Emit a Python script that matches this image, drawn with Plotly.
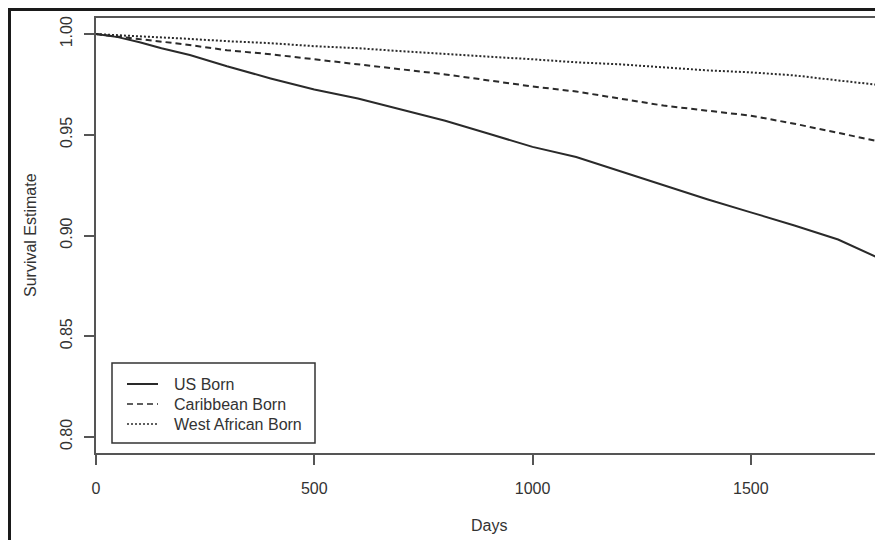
import plotly.graph_objects as go

days_us = [0, 50, 100, 150, 215, 300, 400, 500, 600, 700, 800, 900, 1000, 1100, 1200, 1300, 1400, 1500, 1600, 1700, 1796]
surv_us = [1.0, 0.9985, 0.996, 0.993, 0.9896, 0.984, 0.978, 0.9725, 0.968, 0.9625, 0.957, 0.9505, 0.944, 0.939, 0.932, 0.925, 0.918, 0.9115, 0.905, 0.898, 0.8885]

days_car = [0, 100, 200, 300, 400, 500, 600, 700, 800, 900, 1000, 1100, 1200, 1300, 1400, 1500, 1600, 1700, 1796]
surv_car = [1.0, 0.9975, 0.995, 0.992, 0.990, 0.9875, 0.985, 0.9825, 0.980, 0.977, 0.974, 0.9715, 0.968, 0.9645, 0.962, 0.9595, 0.9555, 0.951, 0.9466]

days_wa = [0, 100, 200, 300, 400, 500, 600, 700, 800, 900, 1000, 1100, 1200, 1300, 1400, 1500, 1600, 1700, 1796]
surv_wa = [1.0, 0.999, 0.9978, 0.9965, 0.9955, 0.994, 0.993, 0.9915, 0.990, 0.9888, 0.9875, 0.986, 0.985, 0.9835, 0.982, 0.981, 0.9795, 0.977, 0.9747]

x_ticks = [0, 500, 1000, 1500]
y_ticks = [0.80, 0.85, 0.90, 0.95, 1.00]
y_tick_labels = ["0.80", "0.85", "0.90", "0.95", "1.00"]

series_names = ["US Born", "Caribbean Born", "West African Born"]
series_dash = ["solid", "6px,4px", "2px,2px"]

FONT = "Liberation Sans, Arial, sans-serif"
INK = "#333333"
LINE = "#2a2a2a"

# page offset (browser body margin)
OFF = 8
L, R, T, B = 88, 3, 10, 87
W, H = 875, 532
pw, ph = W - L - R, H - T - B


def px(xp):
    return (xp - OFF - L) / pw


def py(yp):
    return (H - B - (yp - OFF)) / ph


fig = go.Figure()
for xs, ys, name, dash in [(days_us, surv_us, series_names[0], series_dash[0]),
                           (days_car, surv_car, series_names[1], series_dash[1]),
                           (days_wa, surv_wa, series_names[2], series_dash[2])]:
    fig.add_trace(go.Scatter(x=xs, y=ys, mode="lines", name=name, showlegend=False,
                             line=dict(color=LINE, width=2, dash=dash)))

shapes = [
    dict(type="line", xref="paper", yref="paper", x0=1, x1=1, y0=0, y1=1,
         line=dict(color="#c8c8c8", width=2)),
    dict(type="line", xref="paper", yref="paper", x0=px(9.5), x1=px(9.5), y0=py(8), y1=py(545),
         line=dict(color="#1a1a1a", width=3)),
    dict(type="line", xref="paper", yref="paper", x0=px(8), x1=px(890), y0=py(9.5), y1=py(9.5),
         line=dict(color="#1a1a1a", width=3)),
    # legend box
    dict(type="rect", xref="paper", yref="paper", x0=px(112), x1=px(315), y0=py(443), y1=py(363),
         line=dict(color=INK, width=1.5), fillcolor="white", layer="above"),
]
annotations = [
    dict(text="Survival Estimate", x=px(30), y=py(235), xref="paper", yref="paper",
         showarrow=False, textangle=-90, font=dict(size=16, color=INK),
         xanchor="center", yanchor="middle"),
    dict(text="Days", x=px(489), y=py(525), xref="paper", yref="paper",
         showarrow=False, font=dict(size=16, color=INK),
         xanchor="center", yanchor="middle"),
]
for i, (name, dash) in enumerate(zip(series_names, series_dash)):
    yy = 384 + 20 * i
    shapes.append(dict(type="line", xref="paper", yref="paper", x0=px(127), x1=px(158),
                       y0=py(yy), y1=py(yy), layer="above",
                       line=dict(color=LINE, width=1.5 if i else 2, dash=dash)))
    annotations.append(dict(text=name, x=px(172), y=py(yy), xref="paper", yref="paper",
                            showarrow=False, xanchor="left", yanchor="middle",
                            font=dict(size=16, color=INK)))

fig.update_layout(
    width=W, height=H,
    margin=dict(l=L, r=R, t=T, b=B, pad=0),
    paper_bgcolor="white", plot_bgcolor="white",
    font=dict(family=FONT, size=16, color=INK),
    showlegend=False,
    xaxis=dict(range=[0, 1796], tickvals=x_ticks, ticks="outside", ticklen=10,
               tickcolor="#555555", tickwidth=1.5,
               showline=True, linecolor="#555555", linewidth=1.5, mirror=True,
               showgrid=False, zeroline=False, ticklabelstandoff=10,
               tickfont=dict(size=16, color=INK)),
    yaxis=dict(range=[0.792, 1.008], tickvals=y_ticks, ticktext=y_tick_labels,
               ticks="outside", ticklen=10, tickcolor="#555555", tickwidth=1.5,
               tickangle=-90,
               showline=True, linecolor="#555555", linewidth=1.5, mirror=False,
               showgrid=False, zeroline=False, ticklabelstandoff=6,
               tickfont=dict(size=16, color=INK)),
    annotations=annotations,
    shapes=shapes,
)

fig.write_html("out.html")
